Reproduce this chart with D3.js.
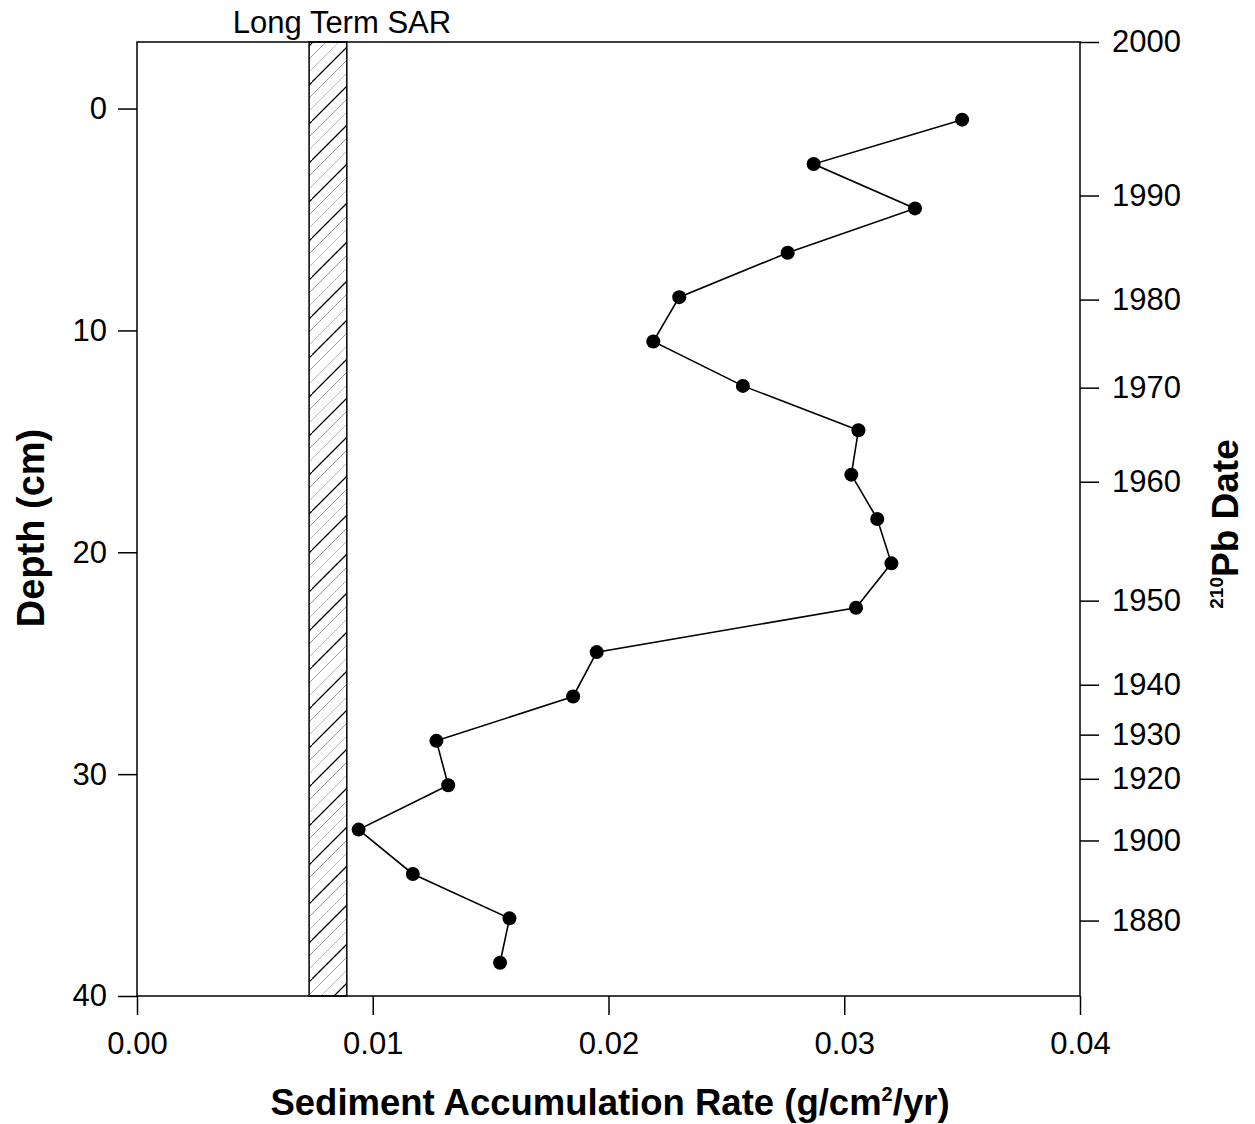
<!DOCTYPE html>
<html>
<head>
<meta charset="utf-8">
<script src="https://cdn.jsdelivr.net/npm/d3@7"></script>
<style>
  body { margin: 0; background: #fff; }
  svg { display: block; }
  text { font-family: "Liberation Sans", Arial, sans-serif; fill: #000; }
</style>
</head>
<body>
<svg id="chart" width="1255" height="1124"></svg>
<script>
// Core depth intervals (cm, midpoint) and sediment accumulation rate (g/cm2/yr)
const depths = [0.5, 2.5, 4.5, 6.5, 8.5, 10.5, 12.5, 14.5, 16.5, 18.5,
                20.5, 22.5, 24.5, 26.5, 28.5, 30.5, 32.5, 34.5, 36.5, 38.5];
const rates = [0.0350, 0.0287, 0.0330, 0.0276, 0.0230, 0.0219, 0.0257, 0.0306, 0.0303, 0.0314,
               0.0320, 0.0305, 0.0195, 0.0185, 0.0127, 0.0132, 0.0094, 0.0117, 0.0158, 0.0154];

// Long-term SAR range (g/cm2/yr)
const sarRange = [0.0073, 0.0089];

// Axis ticks
const rateTicks = [0.00, 0.01, 0.02, 0.03, 0.04];
const depthTicks = [0, 10, 20, 30, 40];
// 210Pb dates and the depths (cm) where they fall
const dateLabels = [2000, 1990, 1980, 1970, 1960, 1950, 1940, 1930, 1920, 1900, 1880];
const dateDepths = [-3.0, 3.92, 8.61, 12.58, 16.82, 22.18, 25.97, 28.22, 30.21, 32.99, 36.6];

const svg = d3.select("#chart");
const plotLeft = 137, plotRight = 1080, plotTop = 42, plotBottom = 996;

const x = d3.scaleLinear().domain([0, 0.04]).range([plotLeft, plotRight]);
const y = d3.scaleLinear().domain([-3, 40]).range([plotTop, plotBottom]);

// Hatch pattern for the long-term SAR band
const defs = svg.append("defs");
const pat = defs.append("pattern")
  .attr("id", "hatch")
  .attr("patternUnits", "userSpaceOnUse")
  .attr("width", 39).attr("height", 39)
  .attr("patternTransform", "translate(0,4)");
[[0, "#000", 1.3], [13, "#999", 1], [26, "#bbb", 1]].forEach(([off, col, w]) => {
  pat.append("path")
    .attr("d", `M${-39 + off},39 L${off},0 M${off},39 L${39 + off},0 M${-78 + off},39 L${-39 + off},0`)
    .attr("stroke", col).attr("stroke-width", w).attr("fill", "none");
});

svg.append("rect")
  .attr("x", x(sarRange[0])).attr("y", plotTop)
  .attr("width", x(sarRange[1]) - x(sarRange[0]))
  .attr("height", plotBottom - plotTop)
  .attr("fill", "url(#hatch)")
  .attr("stroke", "#000").attr("stroke-width", 1.5);

svg.append("text")
  .attr("x", 342)
  .attr("y", 33)
  .attr("text-anchor", "middle")
  .attr("font-size", 31)
  .text("Long Term SAR");

// Frame
svg.append("rect")
  .attr("x", plotLeft).attr("y", plotTop)
  .attr("width", plotRight - plotLeft).attr("height", plotBottom - plotTop)
  .attr("fill", "none").attr("stroke", "#000").attr("stroke-width", 1.5);

// Axes
function styleAxis(g) {
  g.select(".domain").remove();
  g.selectAll(".tick line").attr("stroke", "#000").attr("stroke-width", 1.5);
  g.selectAll(".tick text").attr("font-size", 31).attr("font-family", "Liberation Sans, Arial, sans-serif");
}

svg.append("g")
  .attr("transform", `translate(0,${plotBottom})`)
  .call(d3.axisBottom(x).tickValues(rateTicks).tickFormat(d3.format(".2f")).tickSize(19).tickPadding(17))
  .call(styleAxis);

svg.append("g")
  .attr("transform", `translate(${plotLeft},0)`)
  .call(d3.axisLeft(y).tickValues(depthTicks).tickSize(19).tickPadding(11))
  .call(styleAxis);

svg.append("g")
  .attr("transform", `translate(${plotRight},0)`)
  .call(d3.axisRight(y).tickValues(dateDepths).tickFormat((d, i) => dateLabels[i]).tickSize(19).tickPadding(13))
  .call(styleAxis);

// Data line and points
const pts = depths.map((d, i) => ({ depth: d, rate: rates[i] }));
svg.append("path")
  .datum(pts)
  .attr("fill", "none").attr("stroke", "#000").attr("stroke-width", 1.6)
  .attr("d", d3.line().x(d => x(d.rate)).y(d => y(d.depth)));

svg.selectAll("circle.pt")
  .data(pts)
  .join("circle")
  .attr("class", "pt")
  .attr("cx", d => x(d.rate)).attr("cy", d => y(d.depth))
  .attr("r", 7).attr("fill", "#000");

// Axis titles
svg.append("text")
  .attr("x", 610).attr("y", 1115)
  .attr("text-anchor", "middle")
  .attr("font-size", 36.5).attr("font-weight", "bold")
  .html('Sediment Accumulation Rate (g/cm<tspan dy="-14" font-size="20">2</tspan><tspan dy="14">/yr)</tspan>');

svg.append("text")
  .attr("transform", "translate(44,528) rotate(-90)")
  .attr("text-anchor", "middle")
  .attr("font-size", 38).attr("font-weight", "bold")
  .text("Depth (cm)");

svg.append("text")
  .attr("transform", "translate(1238,524) rotate(-90)")
  .attr("text-anchor", "middle")
  .attr("font-size", 37).attr("font-weight", "bold")
  .html('<tspan dy="-15" font-size="19">210</tspan><tspan dy="15">Pb Date</tspan>');
</script>
</body>
</html>
